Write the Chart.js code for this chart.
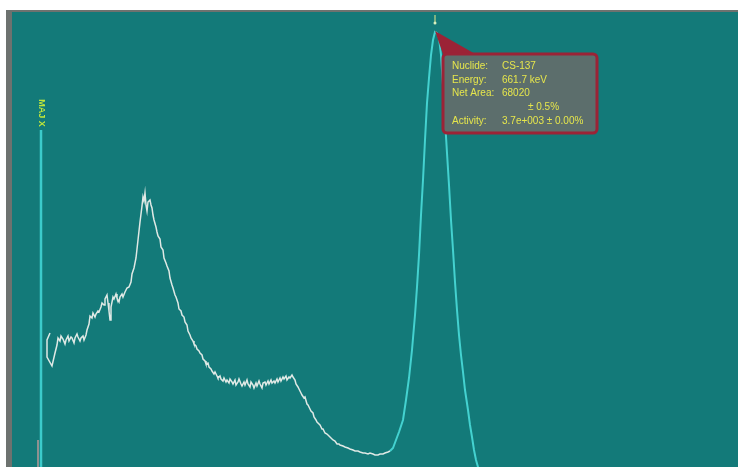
<!DOCTYPE html>
<html>
<head>
<meta charset="utf-8">
<script src="https://cdn.jsdelivr.net/npm/chart.js@4.4.1/dist/chart.umd.min.js"></script>
<style>
    html, body { margin: 0; padding: 0; background: #ffffff; }
    #wrap { width: 738px; height: 467px; position: relative; }
</style>
</head>
<body>
<div id="wrap"><canvas id="spectrum"></canvas></div>
<script>
// channels / counts
const continuumChannels = [
    38, 35, 35, 40, 43, 45, 46, 48, 49, 51,
    53, 54, 56, 57, 59, 60, 62, 63, 65, 66,
    68, 69, 71, 72, 74, 75, 77, 78, 80, 81,
    83, 84, 86, 87, 89, 90, 92, 93, 95, 96,
    97, 98, 99, 101, 102, 104, 105, 107, 108, 110,
    111, 113, 115, 117, 119, 120, 122, 124, 126, 128,
    130, 131, 132, 133, 134, 135, 136, 138, 139, 140,
    141, 142, 144, 145, 146, 148, 149, 151, 152, 154,
    155, 157, 158, 160, 161, 163, 164, 166, 167, 169,
    170, 172, 173, 175, 176, 178, 179, 181, 182, 184,
    185, 187, 188, 190, 191, 193, 194, 196, 197, 199,
    200, 202, 203, 205, 206, 208, 209, 211, 212, 214,
    215, 217, 218, 220, 221, 223, 224, 226, 227, 229,
    230, 232, 233, 235, 236, 238, 239, 241, 242, 244,
    245, 247, 248, 250, 251, 253, 254, 256, 257, 259,
    260, 262, 263, 265, 266, 268, 269, 271, 272, 274,
    275, 277, 278, 280, 281, 283, 284, 286, 287, 289,
    290, 292, 293, 295, 296, 298, 299, 301, 302, 304,
    305, 307, 308, 310, 311, 313, 315, 317, 318, 320,
    321, 323, 325, 327, 328, 331, 333, 336, 338, 341,
    343, 346, 348, 351, 353, 356, 358, 361, 363, 366,
    368, 371, 373, 376, 378
];
const continuumCounts = [
    2340, 2270, 2100, 2010, 2140, 2220, 2290, 2260, 2310, 2280,
    2230, 2270, 2310, 2260, 2300, 2290, 2240, 2290, 2330, 2300,
    2260, 2290, 2310, 2270, 2320, 2370, 2430, 2510, 2490, 2540,
    2500, 2530, 2560, 2550, 2600, 2640, 2620, 2680, 2720, 2640,
    2560, 2470, 2600, 2700, 2680, 2730, 2690, 2650, 2700, 2730,
    2700, 2750, 2790, 2800, 2850, 2930, 2990, 3090, 3270, 3450,
    3610, 3700, 3660, 3740, 3620, 3560, 3650, 3670, 3620, 3590,
    3520, 3470, 3400, 3350, 3310, 3280, 3200, 3170, 3090, 3040,
    3010, 2960, 2890, 2820, 2790, 2720, 2700, 2640, 2580, 2560,
    2520, 2500, 2450, 2420, 2360, 2320, 2290, 2260, 2230, 2210,
    2180, 2160, 2140, 2120, 2080, 2060, 2030, 2040, 2000, 1980,
    1960, 1930, 1950, 1910, 1890, 1910, 1880, 1860, 1890, 1850,
    1870, 1840, 1880, 1850, 1830, 1870, 1820, 1850, 1880, 1830,
    1810, 1850, 1820, 1870, 1830, 1800, 1850, 1820, 1790, 1840,
    1810, 1860, 1830, 1790, 1840, 1850, 1820, 1860, 1830, 1870,
    1840, 1860, 1840, 1880, 1850, 1890, 1860, 1900, 1880, 1910,
    1870, 1900, 1890, 1920, 1900, 1870, 1830, 1800, 1780, 1740,
    1720, 1690, 1700, 1630, 1620, 1580, 1560, 1540, 1500, 1470,
    1450, 1430, 1420, 1380, 1380, 1340, 1330, 1310, 1300, 1280,
    1270, 1260, 1230, 1230, 1220, 1210, 1200, 1190, 1180, 1170,
    1160, 1160, 1150, 1140, 1140, 1130, 1140, 1130, 1120, 1120,
    1130, 1130, 1140, 1150, 1160
];

const peakChannels = [378, 381, 384, 387, 391, 394, 397, 400, 403, 405, 407, 409, 411, 413, 415, 417, 419, 421, 423, 425, 427, 429, 431, 433, 435, 437, 439, 441, 443, 445, 447, 449, 451, 453, 456, 458, 460, 462, 464, 466, 469, 473, 478, 490, 510];
const peakCounts = [1160, 1190, 1270, 1350, 1470, 1670, 1890, 2170, 2520, 2800, 3120, 3520, 3870, 4270, 4640, 4890, 5120, 5270, 5350, 5340, 5290, 5120, 4820, 4470, 4140, 3820, 3470, 3170, 2850, 2570, 2320, 2120, 1950, 1770, 1570, 1420, 1300, 1170, 1070, 1000, 890, 770, 650, 520, 420];

// first-channel spike and cursor
const spikeChannel = 29;
const spikeCounts = [0, 4370];
const cursorChannel = 26;
const cursorCounts = [0, 1270];

const spikeLabel = "MAJ X";
const infoLabels = ["Nuclide:", "Energy:", "Net Area:", "", "Activity:"];
const infoValues = ["CS-137", "661.7 keV", "68020", "± 0.5%", "3.7e+003 ± 0.00%"];

const toPoints = (xs, ys) => xs.map((x, i) => ({ x: x, y: ys[i] }));

const plotBg = {
    id: "plotBg",
    beforeDraw(chart) {
        const { ctx, chartArea: a } = chart;
        ctx.save();
        ctx.fillStyle = "#6d726f";
        ctx.fillRect(6, 10, chart.width - 6, 2);
        ctx.fillRect(6, 10, 6, chart.height - 10);
        ctx.fillStyle = "#137a79";
        ctx.fillRect(a.left, a.top, a.right - a.left, a.bottom - a.top);
        ctx.restore();
    }
};

const peakInfo = {
    id: "peakInfo",
    afterDatasetsDraw(chart) {
        const ctx = chart.ctx;
        const xs = chart.scales.x, ys = chart.scales.y;

        // label on top of the spike
        ctx.save();
        ctx.translate(xs.getPixelForValue(spikeChannel), ys.getPixelForValue(spikeCounts[1]) - 17);
        ctx.rotate(Math.PI / 2);
        ctx.fillStyle = "#bfe63c";
        ctx.font = "bold 9px 'Liberation Sans', Arial, sans-serif";
        ctx.textAlign = "center";
        ctx.textBaseline = "middle";
        ctx.fillText(spikeLabel, 0, 0);
        ctx.restore();

        // find the peak top
        let best = 0;
        peakCounts.forEach((c, i) => { if (c > peakCounts[best]) best = i; });
        const px = xs.getPixelForValue(peakChannels[best]);
        const py = ys.getPixelForValue(peakCounts[best]);

        ctx.save();
        // marker above the peak
        ctx.strokeStyle = "#e8e88a";
        ctx.lineWidth = 1;
        ctx.beginPath();
        ctx.moveTo(px, py - 17);
        ctx.lineTo(px, py - 10);
        ctx.stroke();
        ctx.fillStyle = "#d8f0c0";
        ctx.beginPath();
        ctx.arc(px, py - 9, 1.5, 0, Math.PI * 2);
        ctx.fill();

        // pointer wedge
        ctx.fillStyle = "#9b2336";
        ctx.beginPath();
        ctx.moveTo(px, py - 1);
        ctx.lineTo(px + 42, py + 23);
        ctx.lineTo(px + 10, py + 28);
        ctx.closePath();
        ctx.fill();

        // info box
        const bx = px + 8, by = py + 22, bw = 154, bh = 79;
        ctx.beginPath();
        ctx.roundRect(bx, by, bw, bh, 4);
        ctx.fillStyle = "#5c6e6c";
        ctx.fill();
        ctx.lineWidth = 3;
        ctx.strokeStyle = "#9b2336";
        ctx.stroke();

        ctx.fillStyle = "#e6e64c";
        ctx.font = "10px 'Liberation Sans', Arial, sans-serif";
        ctx.textBaseline = "middle";
        infoLabels.forEach((lab, i) => {
            const ty = by + 12 + i * 13.8;
            ctx.fillText(lab, bx + 9, ty);
            ctx.fillText(infoValues[i], bx + (lab ? 59 : 85), ty);
        });
        ctx.restore();
    }
};

new Chart(document.getElementById("spectrum"), {
    type: "line",
    data: {
        datasets: [
            {
                label: "Cursor",
                data: toPoints([cursorChannel, cursorChannel], cursorCounts),
                borderColor: "#8e9190",
                borderWidth: 2
            },
            {
                label: "Spike",
                data: toPoints([spikeChannel, spikeChannel], spikeCounts),
                borderColor: "#3ccaca",
                borderWidth: 2.5
            },
            {
                label: "Continuum",
                data: toPoints(continuumChannels, continuumCounts),
                borderColor: "#dfe9e5",
                borderWidth: 1.5
            },
            {
                label: "CS-137 ROI",
                data: toPoints(peakChannels, peakCounts),
                borderColor: "#44d2d0",
                borderWidth: 2
            }
        ]
    },
    options: {
        responsive: true,
        maintainAspectRatio: false,
        animation: false,
        layout: { padding: { left: 12, top: 12, right: 0, bottom: 0 } },
        elements: { point: { radius: 0 }, line: { tension: 0 } },
        plugins: {
            legend: { display: false },
            tooltip: { enabled: false }
        },
        scales: {
            x: { type: "linear", display: false, min: 0, max: 726 },
            y: { type: "linear", display: false, min: 1000, max: 5550 }
        }
    },
    plugins: [plotBg, peakInfo]
});
</script>
</body>
</html>
